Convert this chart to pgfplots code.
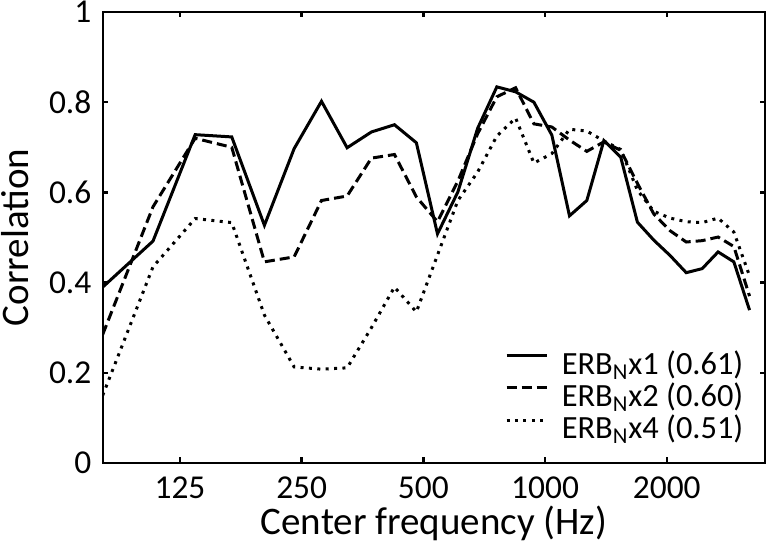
\documentclass[border=0pt]{standalone}
\usepackage{fontspec}
\setmainfont{Carlito}
\usepackage{pgfplots}
\pgfplotsset{compat=1.18}

% center frequency (Hz), correlation for ERB_N x1, x2, x4
\pgfplotstableread{
f      a     b     c
80.5   0.390 0.285 0.150
107.2  0.492 0.568 0.435
136.3  0.728 0.720 0.542
167.9  0.723 0.700 0.533
202.2  0.527 0.446 0.328
239.5  0.697 0.457 0.213
279.9  0.802 0.582 0.208
323.9  0.699 0.592 0.211
372.0  0.734 0.676 0.300
424.1  0.750 0.684 0.390
480.5  0.710 0.590 0.335
541.9  0.508 0.535 0.461
608.6  0.601 0.625 0.582
681.1  0.742 0.730 0.645
759.9  0.834 0.812 0.725
845.5  0.823 0.832 0.765
938.4  0.800 0.752 0.665
1039.4 0.727 0.745 0.686
1149.2 0.548 0.716 0.740
1268.5 0.582 0.691 0.736
1398.1 0.715 0.712 0.714
1539.0 0.678 0.693 0.695
1692.0 0.534 0.620 0.605
1858.4 0.494 0.552 0.558
2038.3 0.460 0.515 0.543
2234.5 0.422 0.490 0.535
2447.4 0.431 0.493 0.533
2679.2 0.468 0.501 0.543
2930.9 0.446 0.480 0.512
3204.6 0.339 0.370 0.415
}\corr

\begin{document}
\begin{tikzpicture}
\begin{axis}[
  width=331.15pt, height=225.5pt, scale only axis,
  xmode=log, log basis x=2,
  xmin=80.5, xmax=3500, ymin=0, ymax=1,
  xtick={125,250,500,1000,2000}, xticklabels={125,250,500,1000,2000},
  ytick={0,0.2,0.4,0.6,0.8,1}, yticklabels={0,0.2,0.4,0.6,0.8,1},
  minor tick num=0, tick align=inside, major tick length=2.75pt,
  axis line style={line width=1.2pt},
  every tick/.style={black, line width=1.2pt},
  tick label style={font=\fontsize{16.7}{19}\selectfont, inner sep=0pt},
  xticklabel style={anchor=base, yshift=-17.85pt},
  yticklabel style={anchor=east, xshift=-5.5pt},
  xlabel={Center frequency (Hz)}, ylabel={Correlation},
  every axis x label/.style={at={([yshift=-36pt]axis description cs:0.5,0)}, anchor=base,
    font=\fontsize{19.5}{22}\selectfont, inner sep=0pt},
  every axis y label/.style={at={([xshift=-37.2pt]axis description cs:0,0.5)}, rotate=90, anchor=base,
    font=\fontsize{19.5}{22}\selectfont, inner sep=0pt},
  legend style={at={([xshift=-10.85pt,yshift=8.15pt]axis description cs:1,0)}, anchor=south east,
    draw=none, fill=none, inner sep=0pt, outer sep=0pt, row sep=0pt, column sep=6.85pt,
    font=\fontsize{16.2}{19}\selectfont,
    nodes={inner sep=0pt, text height=12.1pt, text depth=4pt}},
  legend cell align=left,
  legend image code/.code={\draw[#1] (0pt,5.2pt) -- (20pt,5.2pt);},
]
\addplot[black, line width=1.5pt] table[x=f, y=a] {\corr};
\addplot[black, line width=1.5pt, dash pattern=on 5pt off 2.5pt] table[x=f, y=b] {\corr};
\addplot[black, line width=1.5pt, dash pattern=on 1.5pt off 2.7pt] table[x=f, y=c] {\corr};
\legend{ERB\textsubscript{N}x1 (0.61), ERB\textsubscript{N}x2 (0.60), ERB\textsubscript{N}x4 (0.51)}
\end{axis}
\pgfresetboundingbox
\path[use as bounding box] (-51.35pt,-41.5pt) rectangle (332.15pt,231.5pt);
\end{tikzpicture}
\end{document}
